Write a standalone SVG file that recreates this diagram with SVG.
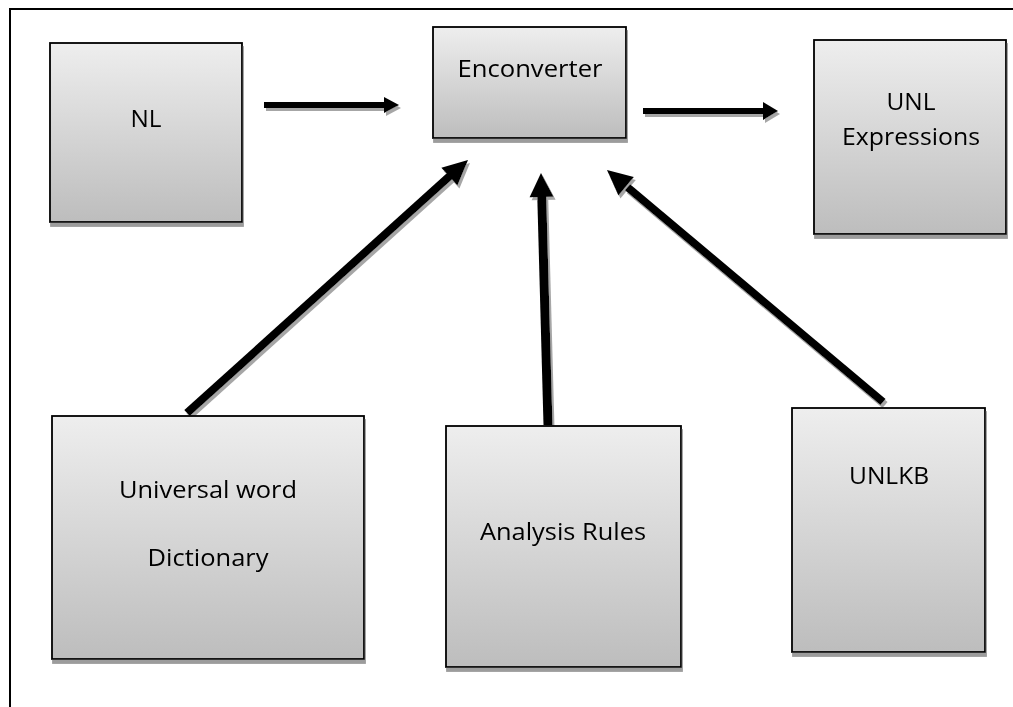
<svg xmlns="http://www.w3.org/2000/svg" width="1013" height="707" viewBox="0 0 1013 707">
  <defs>
    <linearGradient id="boxFill" x1="0" y1="0" x2="0" y2="1">
      <stop offset="0" stop-color="#eeeeee"/>
      <stop offset="1" stop-color="#bdbdbd"/>
    </linearGradient>
    <filter id="boxShadow" x="-5%" y="-5%" width="115%" height="115%">
      <feOffset in="SourceAlpha" dx="1" dy="4" result="off"/>
      <feFlood flood-color="#9c9c9c"/>
      <feComposite in2="off" operator="in" result="sh"/>
      <feMerge><feMergeNode in="sh"/><feMergeNode in="SourceGraphic"/></feMerge>
    </filter>
    <filter id="arrowShadow" x="-10%" y="-10%" width="130%" height="130%">
      <feOffset in="SourceAlpha" dx="2" dy="3" result="off"/>
      <feFlood flood-color="#a6a6a6"/>
      <feComposite in2="off" operator="in" result="sh"/>
      <feMerge><feMergeNode in="sh"/><feMergeNode in="SourceGraphic"/></feMerge>
    </filter>
  </defs>
  <style>
    .box { fill: url(#boxFill); stroke: #000; stroke-width: 1.8; }
    .label { font-family: "Open Sans", "Liberation Sans", sans-serif; font-size: 23px; fill: #000; text-anchor: middle; }
    .shaft { stroke: #000; fill: none; }
    .head { fill: #000; }
  </style>

  <rect width="1013" height="707" fill="#fff"/>
  <!-- page frame -->
  <path d="M10,707 V9 H1013" fill="none" stroke="#000" stroke-width="2"/>

  <g id="connectors" filter="url(#arrowShadow)">
    <!-- NL to Enconverter -->
    <line class="shaft" x1="264" y1="105" x2="386" y2="105" stroke-width="6"/>
    <polygon class="head" points="384,97 399,105 384,113"/>
    <!-- Enconverter to UNL Expressions -->
    <line class="shaft" x1="643" y1="111" x2="765" y2="111" stroke-width="6"/>
    <polygon class="head" points="763,102 778,111 763,120"/>
    <!-- Universal word Dictionary to Enconverter -->
    <line class="shaft" x1="187" y1="413" x2="452" y2="174" stroke-width="8"/>
    <polygon class="head" points="468,160 457.4,185.6 441.4,167.8"/>
    <!-- Analysis Rules to Enconverter -->
    <line class="shaft" x1="548" y1="425" x2="541.7" y2="194" stroke-width="9"/>
    <polygon class="head" points="541,173 553.6,196.7 529.6,197.3"/>
    <!-- UNLKB to Enconverter -->
    <line class="shaft" x1="883" y1="402" x2="627.5" y2="187.3" stroke-width="8"/>
    <polygon class="head" points="607,170 633.8,177 618.4,195.4"/>
  </g>

  <g id="nl" filter="url(#boxShadow)">
    <rect class="box" x="50" y="43" width="192" height="179"/>
    <text class="label" x="146" y="127" textLength="31" lengthAdjust="spacingAndGlyphs">NL</text>
  </g>

  <g id="enconverter" filter="url(#boxShadow)">
    <rect class="box" x="433" y="27" width="193" height="111"/>
    <text class="label" x="530" y="77" textLength="145" lengthAdjust="spacingAndGlyphs">Enconverter</text>
  </g>

  <g id="unl-expressions" filter="url(#boxShadow)">
    <rect class="box" x="814" y="40" width="192" height="194"/>
    <text class="label" x="911" y="110" textLength="49" lengthAdjust="spacingAndGlyphs">UNL</text>
    <text class="label" x="911" y="145" textLength="138" lengthAdjust="spacingAndGlyphs">Expressions</text>
  </g>

  <g id="universal-word-dictionary" filter="url(#boxShadow)">
    <rect class="box" x="52" y="416" width="312" height="243"/>
    <text class="label" x="208" y="498" textLength="178" lengthAdjust="spacingAndGlyphs">Universal word</text>
    <text class="label" x="208" y="566" textLength="121" lengthAdjust="spacingAndGlyphs">Dictionary</text>
  </g>

  <g id="analysis-rules" filter="url(#boxShadow)">
    <rect class="box" x="446" y="426" width="235" height="241"/>
    <text class="label" x="563" y="540" textLength="166" lengthAdjust="spacingAndGlyphs">Analysis Rules</text>
  </g>

  <g id="unlkb" filter="url(#boxShadow)">
    <rect class="box" x="792" y="408" width="193" height="244"/>
    <text class="label" x="889" y="484" textLength="80" lengthAdjust="spacingAndGlyphs">UNLKB</text>
  </g>
</svg>
